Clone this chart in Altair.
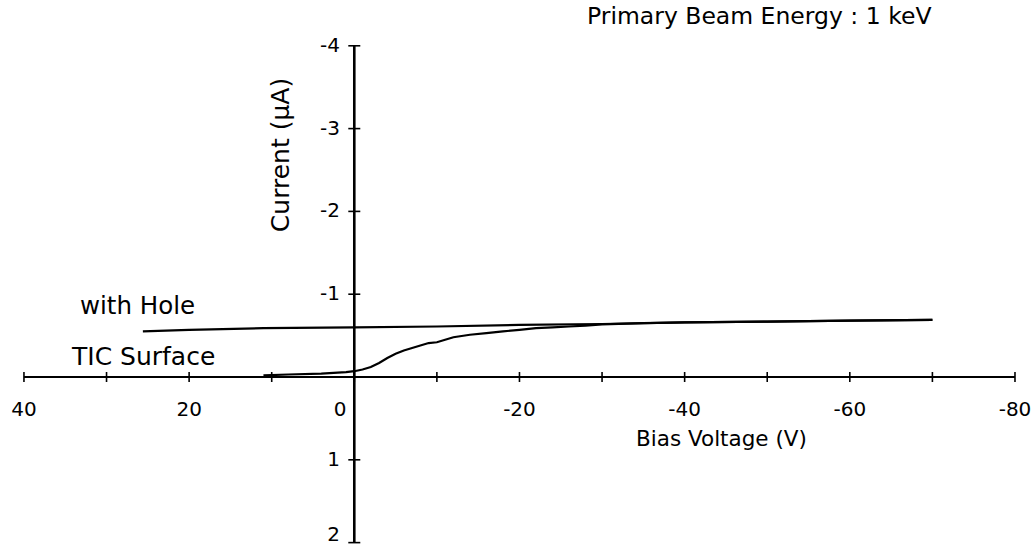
import altair as alt
import pandas as pd

# Measured curves: bias voltage (V) vs. collected current (uA)
hole_v = [25.6, 20, 11, 0, -10, -20, -30, -40, -50, -60, -70]
hole_i = [-0.55, -0.57, -0.59, -0.60, -0.61, -0.63, -0.64, -0.66, -0.67, -0.68, -0.69]

tic_v = [11, 8, 4, 1, 0, -1, -2, -3, -4, -5, -6, -7, -8, -9, -10, -11, -12,
         -14, -16, -18, -20, -22, -24, -26, -28, -30, -35, -40, -50, -60, -70]
tic_i = [-0.02, -0.03, -0.04, -0.06, -0.07, -0.09, -0.12, -0.17, -0.23, -0.28,
         -0.32, -0.35, -0.38, -0.41, -0.42, -0.45, -0.48, -0.51, -0.53, -0.55,
         -0.57, -0.59, -0.60, -0.61, -0.62, -0.635, -0.65, -0.66, -0.67, -0.68, -0.69]

# Axis ticks and labels
x_ticks = [40, 30, 20, 10, 0, -10, -20, -30, -40, -50, -60, -70, -80]
x_labels = [40, 20, -20, -40, -60, -80]
x_label_text = ["40", "20", "-20", "-40", "-60", "-80"]
y_ticks = [-4, -3, -2, -1, 0, 1, 2]
y_labels = [-4, -3, -2, -1, 1]
y_label_text = ["-4", "-3", "-2", "-1", "1"]

FONT = "DejaVu Sans"
W, H = 1032, 548
X_DOM = [-82.06, 42.9]
Y_DOM = [-4.553, 2.065]
PX_PER_V = W / (X_DOM[1] - X_DOM[0])
PX_PER_I = H / (Y_DOM[1] - Y_DOM[0])

xs = alt.Scale(domain=X_DOM, reverse=True, nice=False, zero=False)
ys = alt.Scale(domain=Y_DOM, reverse=True, nice=False, zero=False)


def X(field="v"):
    return alt.X(field, type="quantitative", scale=xs, axis=None)


def Y(field="i"):
    return alt.Y(field, type="quantitative", scale=ys, axis=None)


curves = pd.concat([
    pd.DataFrame({"v": hole_v, "i": hole_i, "s": "hole", "k": range(len(hole_v))}),
    pd.DataFrame({"v": tic_v, "i": tic_i, "s": "tic", "k": range(len(tic_v))}),
])

lines = alt.Chart(curves).mark_line(color="black", strokeWidth=2.2).encode(
    x=X(), y=Y(), detail="s:N", order="k:Q"
)

# axis lines crossing at the origin
xaxis = alt.Chart(pd.DataFrame({"v": [40], "v2": [-80], "i": [0]})).mark_rule(
    color="black", strokeWidth=2.2).encode(x=X(), x2="v2", y=Y())
yaxis = alt.Chart(pd.DataFrame({"v": [0], "i": [-4], "i2": [2]})).mark_rule(
    color="black", strokeWidth=2.6).encode(x=X(), y=Y(), y2="i2")

# crossing tick marks, half-lengths given in pixels
tx = 5 / PX_PER_I
xt_df = pd.DataFrame({"v": x_ticks})
xt_df["i"] = -tx
xt_df["i2"] = tx
xt = alt.Chart(xt_df).mark_rule(color="black", strokeWidth=1.6).encode(
    x=X(), y=Y(), y2="i2")

ty = 6 / PX_PER_V
yt_df = pd.DataFrame({"i": y_ticks})
yt_df["v"] = ty
yt_df["v2"] = -ty
yt = alt.Chart(yt_df).mark_rule(color="black", strokeWidth=1.6).encode(
    x=X(), x2="v2", y=Y())

TICK_FS = 20
xl = alt.Chart(pd.DataFrame({"v": x_labels, "t": x_label_text})).mark_text(
    font=FONT, fontSize=TICK_FS, align="center", baseline="middle", dy=33, color="black"
).encode(x=X(), y=alt.value(377), text="t:N")
yl = alt.Chart(pd.DataFrame({"i": y_labels, "t": y_label_text})).mark_text(
    font=FONT, fontSize=TICK_FS, align="right", baseline="middle", dx=-17, color="black"
).encode(x=alt.value(357), y=Y(), text="t:N")
# bottom label sits just above the lower edge
yl_end = alt.Chart(pd.DataFrame({"i": [2], "t": ["2"]})).mark_text(
    font=FONT, fontSize=TICK_FS, align="right", baseline="bottom", dx=-17, dy=2,
    color="black"
).encode(x=alt.value(357), y=Y(), text="t:N")
origin = alt.Chart(pd.DataFrame({"t": ["0"]})).mark_text(
    font=FONT, fontSize=TICK_FS, align="center", baseline="middle", color="black"
).encode(x=alt.value(340), y=alt.value(410), text="t:N")

notes = pd.DataFrame({
    "t": ["with Hole", "TIC Surface", "Bias Voltage (V)",
          "Primary Beam Energy : 1 keV"],
    "px": [80, 72, 636, 587],
    "py": [307, 357, 440, 17],
    "fs": [24.5, 25, 21.5, 23.5],
})
ann = alt.Chart(notes).mark_text(
    font=FONT, align="left", baseline="middle", color="black"
).encode(x=alt.X("px:Q", scale=None), y=alt.Y("py:Q", scale=None), text="t:N",
         size=alt.Size("fs:Q", scale=None, legend=None))

ylabel = alt.Chart(pd.DataFrame({"t": ["Current (\u03bcA)"]})).mark_text(
    font=FONT, fontSize=25, angle=270, align="center", baseline="middle", color="black"
).encode(x=alt.value(281), y=alt.value(155), text="t:N")

chart = alt.layer(lines, xaxis, yaxis, xt, yt, xl, yl, yl_end, origin, ann, ylabel).properties(
    width=W, height=H, padding=0, autosize=alt.AutoSizeParams(type="none"),
    background="white"
).configure_view(stroke=None)

chart.save("out.html", embed_options={"renderer": "svg", "actions": False})
